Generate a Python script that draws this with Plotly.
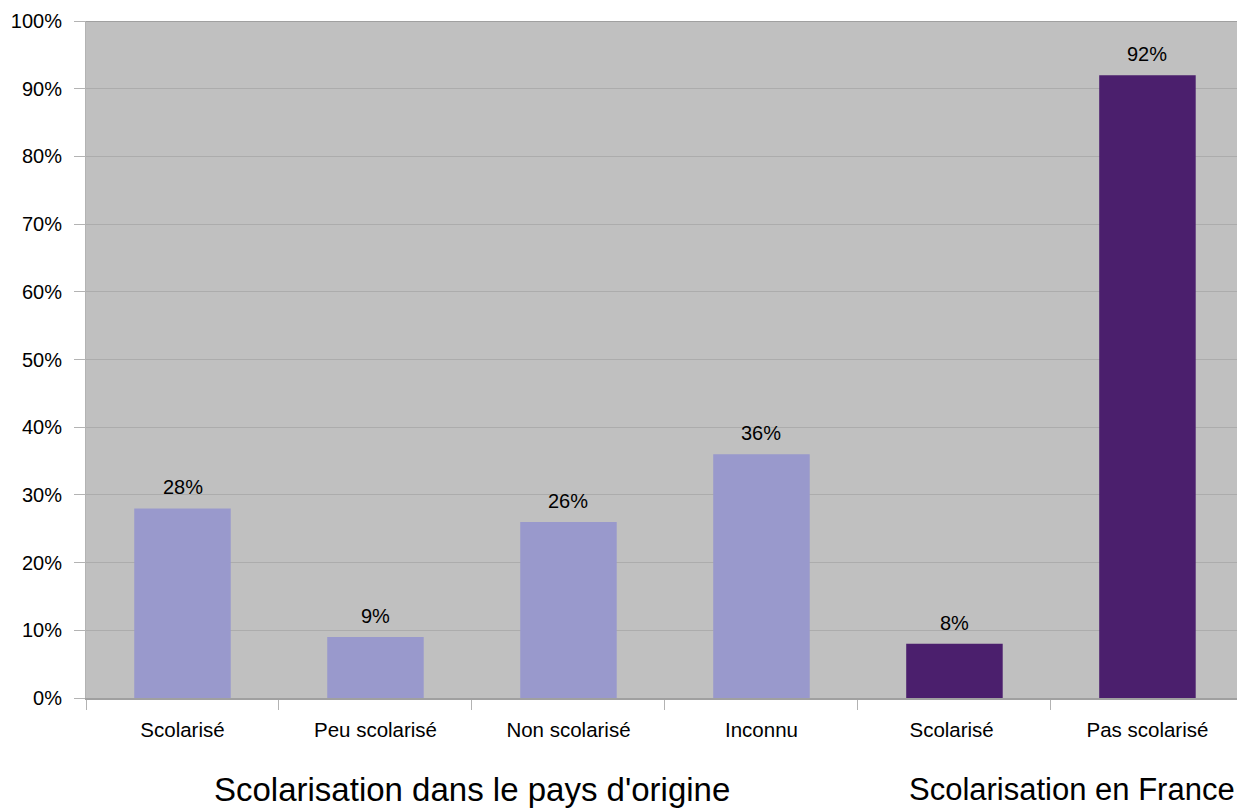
import plotly.graph_objects as go

categories = ["Scolarisé", "Peu scolarisé", "Non scolarisé", "Inconnu", "Scolarisé ", "Pas scolarisé"]
values = [28, 9, 26, 36, 8, 92]
group_names = ["Scolarisation dans le pays d'origine", "Scolarisation en France"]
y_ticks = list(range(0, 101, 10))

light = "#9999cc"
dark = "#4b1f6d"
colors = [light, light, light, light, dark, dark]

W, H = 1237, 811
ml, mr, mt, mb = 86, 0, 21, 113
plot_h = H - mt - mb
FONT = "Liberation Sans, Arial"

fig = go.Figure(
    go.Bar(
        x=categories,
        y=values,
        marker=dict(color=colors, line=dict(width=0)),
        width=0.5,
        hoverinfo="x+y",
    )
)

# value labels above each bar
for cat, v in zip(categories, values):
    fig.add_annotation(
        x=cat, y=v, xref="x", yref="y",
        text=f"{v}%", showarrow=False,
        yanchor="middle", yshift=21,
        font=dict(size=20, color="#000000", family=FONT),
    )

fig.update_layout(
    width=W,
    height=H,
    margin=dict(l=ml, r=mr, t=mt, b=mb),
    paper_bgcolor="#ffffff",
    plot_bgcolor="#c0c0c0",
    showlegend=False,
    font=dict(family=FONT, color="#000000"),
    xaxis=dict(
        type="category",
        range=[-0.5, 5.464],
        tickson="boundaries",
        ticks="outside",
        ticklen=10,
        tickcolor="#b3b3b3",
        tickfont=dict(size=20.5),
        ticklabelstandoff=12,
        showgrid=False,
        showline=True,
        linecolor="#a0a0a0",
        linewidth=2,
        fixedrange=True,
    ),
    yaxis=dict(
        range=[0, 100],
        tickvals=y_ticks,
        ticktext=[f"{v}%" for v in y_ticks],
        ticks="outside",
        ticklen=11,
        tickcolor="#b3b3b3",
        tickfont=dict(size=20),
        ticklabelstandoff=8,
        showgrid=True,
        gridcolor="#acacac",
        gridwidth=1,
        showline=True,
        linecolor="#b3b3b3",
        linewidth=1,
        zeroline=False,
        fixedrange=True,
    ),
)

# top border of the plotting area
fig.add_shape(type="line", xref="paper", yref="y", x0=0, x1=1, y0=100, y1=100,
              line=dict(color="#a0a0a0", width=2))

# group labels under the category axis
label_y = -(789 - (H - mb)) / plot_h
fig.add_annotation(text=group_names[0], xref="x", yref="paper", x=1.5, y=label_y,
                   showarrow=False, font=dict(size=33), yanchor="middle")
fig.add_annotation(text=group_names[1], xref="x", yref="paper", x=4.61, y=label_y,
                   showarrow=False, font=dict(size=31), yanchor="middle")

fig.write_html("out.html")
